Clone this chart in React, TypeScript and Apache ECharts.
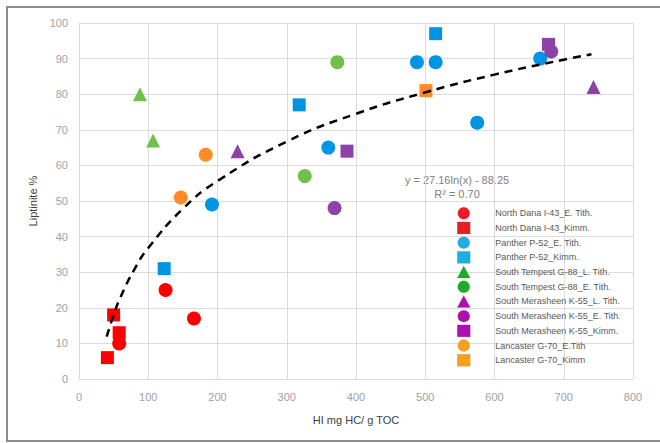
import React, { useEffect, useRef } from "react";
import * as echarts from "echarts";

// ---- data ----
const northDanaETith: number[][] = [[58, 10], [125, 25], [166, 17]];
const northDanaKimm: number[][] = [[50, 18], [58, 13], [41, 6]];
const pantherETith: number[][] = [[192, 49], [360, 65], [488, 89], [515, 89], [575, 72], [666, 90]];
const pantherKimm: number[][] = [[123, 31], [318, 77], [515, 97]];
const tempestLTith: number[][] = [[88, 80], [107, 67]];
const tempestETith: number[][] = [[373, 89], [326, 57]];
const merasheenLTith: number[][] = [[229, 64], [743, 82]];
const merasheenETith: number[][] = [[369, 48], [682, 92]];
const merasheenKimm: number[][] = [[387, 64], [678, 94]];
const lancasterETith: number[][] = [[183, 63], [147, 51]];
const lancasterKimm: number[][] = [[501, 81]];

// trend line points as drawn (dashed log fit)
const trendX = [40, 50, 60, 80, 100, 150, 200, 300, 400, 500, 600, 700, 740];
const trendY = [11.9, 18.0, 23.0, 30.8, 36.8, 47.8, 55.6, 66.7, 74.5, 80.5, 85.5, 89.7, 91.2];

const seriesNames = [
  "North Dana I-43_E. Tith.",
  "North Dana I-43_Kimm.",
  "Panther P-52_E. Tith.",
  "Panther P-52_Kimm.",
  "South Tempest G-88_L. Tith.",
  "South Tempest G-88_E. Tith.",
  "South Merasheen K-55_L. Tith.",
  "South Merasheen K-55_E. Tith.",
  "South Merasheen K-55_Kimm.",
  "Lancaster G-70_E.Tith",
  "Lancaster G-70_Kimm",
];
const seriesData = [
  northDanaETith, northDanaKimm, pantherETith, pantherKimm, tempestLTith, tempestETith,
  merasheenLTith, merasheenETith, merasheenKimm, lancasterETith, lancasterKimm,
];
const symbols = ["circle", "rect", "circle", "rect", "triangle", "circle", "triangle", "circle", "rect", "circle", "rect"];
const plotColors = ["#ff0000", "#ff0000", "#0094e4", "#0094e4", "#72c04a", "#72c04a", "#8c42a8", "#8c42a8", "#8c42a8", "#ff8a26", "#ff8a26"];
const legendColors = ["#ec1c24", "#ec1c24", "#1cb0e2", "#1cb0e2", "#1aad24", "#1aad24", "#ad0fb0", "#ad0fb0", "#ad0fb0", "#f7a01e", "#f7a01e"];

const equationText = "y = 27.16ln(x) - 88.25";
const r2Text = "R² = 0.70";

export default function App() {
  const ref = useRef<HTMLDivElement>(null);
  useEffect(() => {
    if (!ref.current) return;
    const chart = echarts.init(ref.current, undefined, { renderer: "svg" });
    const font = "'Liberation Sans', Arial, sans-serif";
    const sizes: Record<string, number> = { circle: 14, rect: 13, triangle: 14 };
    const scatter = seriesNames.map((name, i) => ({
      name,
      type: "scatter",
      data: seriesData[i],
      symbol: symbols[i],
      symbolSize: sizes[symbols[i]],
      itemStyle: { color: plotColors[i], opacity: 1 },
      z: 3,
    }));
    chart.setOption({
      animation: false,
      backgroundColor: "#ffffff",
      textStyle: { fontFamily: font },
      grid: { left: 79, right: 27, top: 23, bottom: 64, containLabel: false },
      xAxis: {
        type: "value",
        min: 0,
        max: 800,
        interval: 100,
        name: "HI mg HC/ g TOC",
        nameLocation: "middle",
        nameGap: 35,
        nameTextStyle: { color: "#404040", fontSize: 11, fontFamily: font },
        axisLine: { show: true, lineStyle: { color: "#d9d9d9" } },
        axisTick: { show: false },
        axisLabel: { color: "#a0a0a0", fontSize: 11, margin: 12, fontFamily: font },
        splitLine: { show: true, lineStyle: { color: "#dcdcdc", width: 1 } },
      },
      yAxis: {
        type: "value",
        min: 0,
        max: 100,
        interval: 10,
        name: "Liptinite %",
        nameLocation: "middle",
        nameGap: 38,
        nameTextStyle: { color: "#404040", fontSize: 11, fontFamily: font },
        axisLine: { show: true, lineStyle: { color: "#d9d9d9" } },
        axisTick: { show: false },
        axisLabel: { color: "#a0a0a0", fontSize: 11, margin: 11, fontFamily: font },
        splitLine: { show: true, lineStyle: { color: "#dcdcdc", width: 1 } },
      },
      legend: {
        orient: "vertical",
        left: 452,
        top: 202,
        itemWidth: 13,
        itemHeight: 12,
        itemGap: 2.2,
        selectedMode: false,
        textStyle: { color: "#595959", fontSize: 9, fontFamily: font, padding: [0, 0, 0, 20] },
        data: seriesNames.map((name, i) => ({
          name,
          icon: symbols[i],
          itemStyle: { color: legendColors[i], borderColor: "rgba(0,0,0,0.15)", borderWidth: 0.5 },
        })),
      },
      graphic: [
        {
          type: "rect",
          shape: { x: 7, y: 7, width: 700, height: 434 },
          style: { fill: "none", stroke: "#8c8c8c", lineWidth: 2 },
          silent: true,
          z: 100,
        },
        {
          type: "text",
          x: 457,
          y: 180,
          style: { text: equationText, fill: "#808080", fontSize: 11, fontFamily: font, textAlign: "center", textVerticalAlign: "middle" },
        },
        {
          type: "text",
          x: 457,
          y: 194,
          style: { text: r2Text, fill: "#808080", fontSize: 11, fontFamily: font, textAlign: "center", textVerticalAlign: "middle" },
        },
      ],
      series: [
        ...scatter,
        {
          name: "trend",
          type: "line",
          data: trendX.map((x, i) => [x, trendY[i]]),
          smooth: true,
          symbol: "none",
          lineStyle: { color: "#000000", width: 2.5, type: [8, 6] },
          z: 4,
          silent: true,
        },
      ],
    });
    return () => chart.dispose();
  }, []);
  return <div ref={ref} style={{ width: 660, height: 443, position: "absolute", left: 0, top: 0 }} />;
}
